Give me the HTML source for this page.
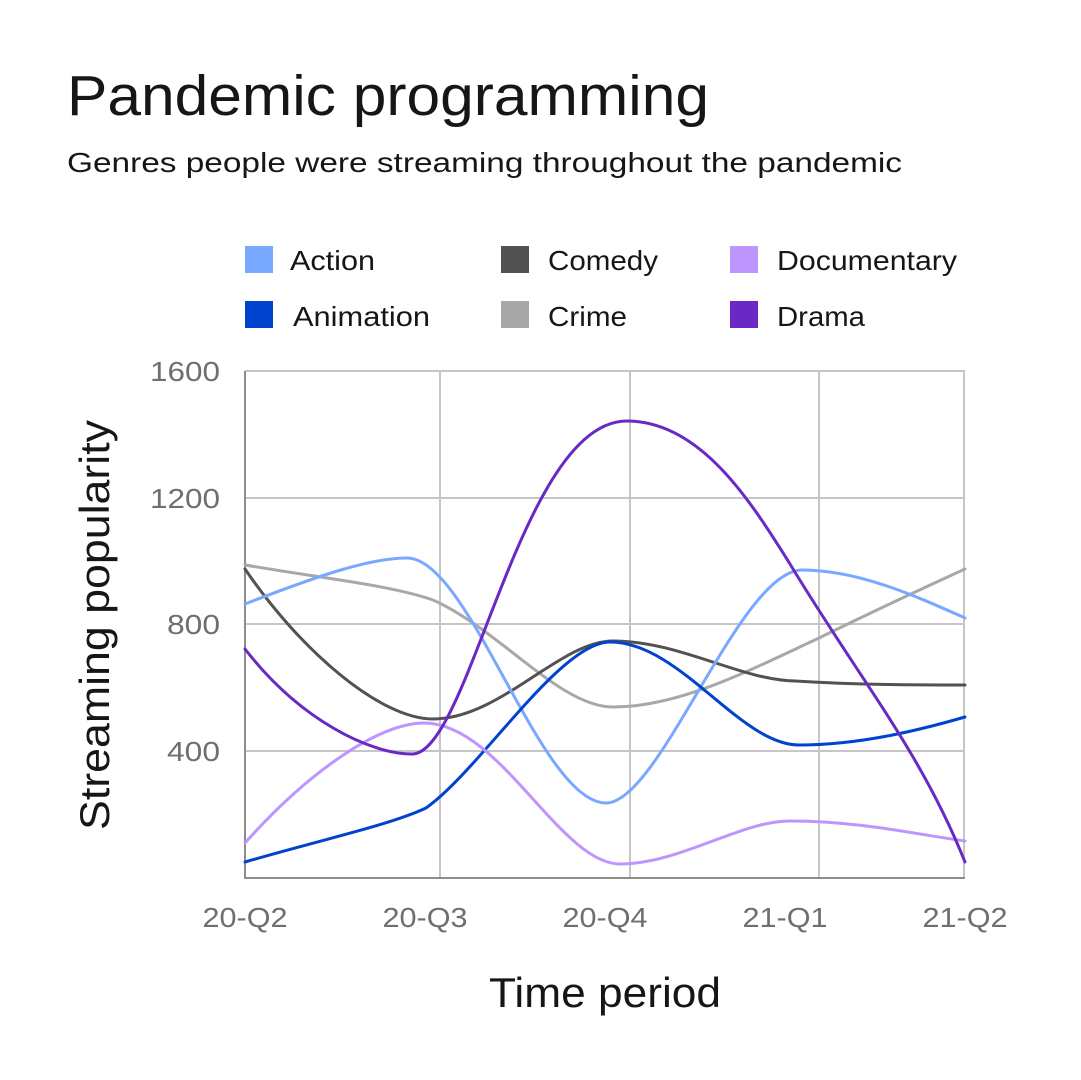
<!DOCTYPE html>
<html><head><meta charset="utf-8"><style>body{margin:0;background:#fff}svg{display:block}</style></head>
<body>
<svg width="1081" height="1080" viewBox="0 0 1081 1080" xmlns="http://www.w3.org/2000/svg" font-family="Liberation Sans, sans-serif">
<rect width="1081" height="1080" fill="#fff"/>
<text x="67" y="115" font-size="57" fill="#161616" textLength="642" lengthAdjust="spacingAndGlyphs">Pandemic programming</text>
<text x="67" y="172" font-size="28" fill="#161616" textLength="835" lengthAdjust="spacingAndGlyphs">Genres people were streaming throughout the pandemic</text>
<g font-size="28" fill="#161616">
<rect x="245" y="246" width="28" height="27" fill="#78a9ff"/><text x="290" y="270" textLength="85" lengthAdjust="spacingAndGlyphs">Action</text>
<rect x="245" y="301" width="28" height="27" fill="#0043ce"/><text x="293" y="326" textLength="137" lengthAdjust="spacingAndGlyphs">Animation</text>
<rect x="501" y="246" width="28" height="27" fill="#525252"/><text x="548" y="270" textLength="110" lengthAdjust="spacingAndGlyphs">Comedy</text>
<rect x="501" y="301" width="28" height="27" fill="#a8a8a8"/><text x="548" y="326" textLength="79" lengthAdjust="spacingAndGlyphs">Crime</text>
<rect x="730" y="246" width="28" height="27" fill="#be95ff"/><text x="777" y="270" textLength="180" lengthAdjust="spacingAndGlyphs">Documentary</text>
<rect x="730" y="301" width="28" height="27" fill="#6929c4"/><text x="777" y="326" textLength="88" lengthAdjust="spacingAndGlyphs">Drama</text>
</g>
<g stroke="#c6c6c6" stroke-width="2" fill="none">
<line x1="245" y1="371" x2="965" y2="371"/>
<line x1="245" y1="498" x2="965" y2="498"/>
<line x1="245" y1="624" x2="965" y2="624"/>
<line x1="245" y1="751" x2="965" y2="751"/>
<line x1="440" y1="371" x2="440" y2="878"/>
<line x1="630" y1="371" x2="630" y2="878"/>
<line x1="819" y1="371" x2="819" y2="878"/>
<line x1="964" y1="371" x2="964" y2="878"/>
</g>
<g stroke="#8d8d8d" stroke-width="2"><line x1="245" y1="371" x2="245" y2="878"/><line x1="244" y1="878" x2="965" y2="878"/></g>
<g font-size="28" fill="#6f6f6f" text-anchor="end">
<text x="220" y="381" textLength="70" lengthAdjust="spacingAndGlyphs">1600</text><text x="220" y="508" textLength="70" lengthAdjust="spacingAndGlyphs">1200</text><text x="220" y="634" textLength="53" lengthAdjust="spacingAndGlyphs">800</text><text x="220" y="761" textLength="53" lengthAdjust="spacingAndGlyphs">400</text>
</g>
<g font-size="28" fill="#6f6f6f" text-anchor="middle">
<text x="245" y="927" textLength="85" lengthAdjust="spacingAndGlyphs">20-Q2</text><text x="425" y="927" textLength="85" lengthAdjust="spacingAndGlyphs">20-Q3</text><text x="605" y="927" textLength="85" lengthAdjust="spacingAndGlyphs">20-Q4</text><text x="785" y="927" textLength="85" lengthAdjust="spacingAndGlyphs">21-Q1</text><text x="965" y="927" textLength="85" lengthAdjust="spacingAndGlyphs">21-Q2</text>
</g>
<text x="605" y="1007" font-size="42" fill="#161616" text-anchor="middle" textLength="232" lengthAdjust="spacingAndGlyphs">Time period</text>
<text transform="translate(109,625) rotate(-90)" font-size="42" fill="#161616" text-anchor="middle" textLength="410" lengthAdjust="spacingAndGlyphs">Streaming popularity</text>
<g fill="none" stroke-width="3" stroke-linecap="round">
<path stroke="#a8a8a8" d="M245,565 C320,578 390,585 433,600 C500,630 560,707 613,707 C680,707 750,670 819,638 C880,608 930,585 965,569"/>
<path stroke="#525252" d="M245,569 C300,650 380,719 433,719 C500,719 560,641 613,641 C680,641 740,680 795,681 C860,685 920,685 965,685"/>
<path stroke="#78a9ff" d="M245,604 C320,575 370,558 407,558 C470,558 540,803 606,803 C660,803 740,570 802,570 C860,570 920,598 965,618"/>
<path stroke="#0043ce" d="M245,862 C320,840 390,825 426,808 C480,770 560,642 610,642 C680,642 740,745 799,745 C860,745 920,730 965,717"/>
<path stroke="#be95ff" d="M245,843 C310,770 380,723 424,723 C500,723 560,864 620,864 C680,864 740,821 790,821 C860,821 920,835 965,841"/>
<path stroke="#6929c4" d="M245,649 C300,720 370,754 412,754 C470,754 520,421 627,421 C700,421 750,500 790,564 C860,680 920,750 965,862"/>
</g>
</svg>
</body></html>
